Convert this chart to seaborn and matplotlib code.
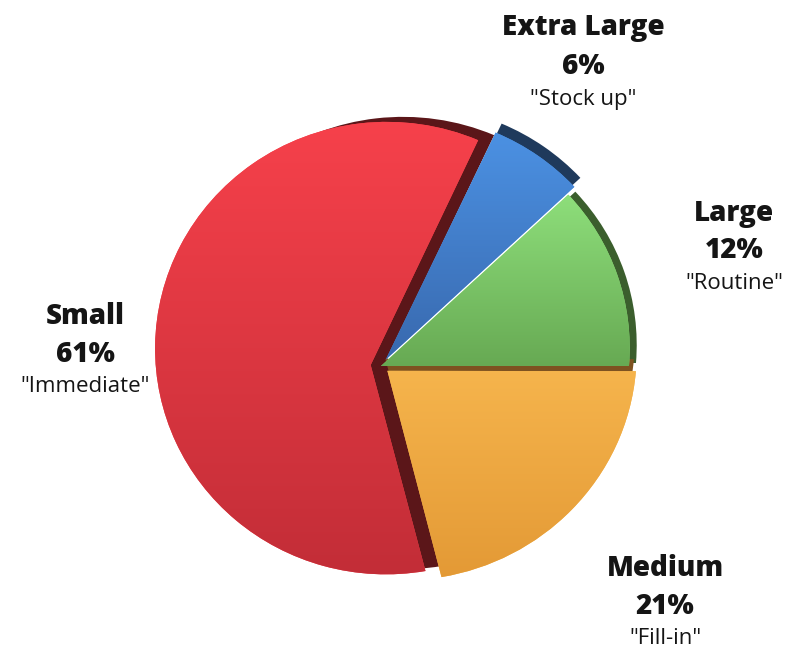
import numpy as np
import matplotlib
matplotlib.use("Agg")
import matplotlib.pyplot as plt
import matplotlib.transforms as mtransforms
import seaborn as sns
from matplotlib.colors import LinearSegmentedColormap

sns.set_theme(style="white")
plt.rcParams['font.family'] = ['Open Sans', 'DejaVu Sans']

# ---- data ----
categories = ["Large", "Extra Large", "Small", "Medium"]
shares = [12, 6, 61, 21]
subtitles = ['"Routine"', '"Stock up"', '"Immediate"', '"Fill-in"']
top_colors = ["#8fe07c", "#4c92e4", "#f7414b", "#f6b54d"]
bottom_colors = ["#66a852", "#3868ad", "#c22d37", "#e39935"]
side_colors = ["#3b5e2d", "#1f3a5c", "#5b1619", "#7e5220"]
explode = [0.0, 0.035, 0.045, 0.035]


class Perspective(mtransforms.Transform):
    """Tilted-disc view of a unit pie (mild projective mapping)."""
    input_dims = output_dims = 2
    is_separable = False
    has_inverse = False

    def __init__(self, cx, cy, a, e, g, h, dx=0.0, dy=0.0):
        super().__init__()
        self.p = (cx + dx, cy + dy, a, e, g, h)

    def transform_non_affine(self, xy):
        cx, cy, a, e, g, h = self.p
        xy = np.asarray(xy, dtype=float)
        u, v = xy[:, 0], xy[:, 1]
        d = 1.0 + g * u + h * v
        return np.column_stack([cx + a * u / d, cy + e * v / d])


W, H = 794, 652
fig = plt.figure(figsize=(W / 100, H / 100), dpi=100)
ax = fig.add_axes([0, 0, 1, 1])

CX, CY = 381, 652 - 366
PAR = dict(a=231, e=225, g=-0.0684, h=-0.0749)
side_shift = [(7, 3), (6, 9), (16, 5), (-2, 12)]

# 3D side (dark copy behind the faces)
side, _ = ax.pie(shares, colors=side_colors, startangle=0, counterclock=True,
                 explode=explode, radius=1, center=(0, 0),
                 wedgeprops=dict(linewidth=0), frame=True)
for w, (dx, dy) in zip(side, side_shift):
    w.set_transform(Perspective(CX, CY, dx=dx, dy=dy, **PAR) + ax.transData)

# faces
wedges, _ = ax.pie(shares, colors=top_colors, startangle=0, counterclock=True,
                   explode=explode, radius=1, center=(0, 0),
                   wedgeprops=dict(linewidth=0), frame=True)
face_tr = Perspective(CX, CY, **PAR)
for w in wedges:
    w.set_transform(face_tr + ax.transData)

ax.set_xlim(0, W)
ax.set_ylim(0, H)
ax.set_aspect("auto")
fig.canvas.draw()

grad = np.linspace(0, 1, 256).reshape(-1, 1)
inv = ax.transData.inverted()
for w, top, bot in zip(wedges, top_colors, bottom_colors):
    ext = w.get_transform().transform_path(w.get_path()).get_extents()
    (x0, y0), (x1, y1) = inv.transform([[ext.x0, ext.y0], [ext.x1, ext.y1]])
    cmap = LinearSegmentedColormap.from_list("g", [bot, top])
    im = ax.imshow(grad, extent=[x0 - 5, x1 + 5, y0 - 5, y1 + 5], origin="lower",
                   cmap=cmap, aspect="auto", zorder=w.get_zorder() + 0.1)
    im.set_clip_path(w)

ax.set_xlim(0, W)
ax.set_ylim(0, H)
ax.set_aspect("auto")
ax.axis("off")

label_pos = {"Extra Large": (583, 28), "Large": (734, 213),
             "Small": (85, 316), "Medium": (665, 568)}
for cat, pct, sub in zip(categories, shares, subtitles):
    x, y = label_pos[cat]
    fig.text(x / W, 1 - y / H, cat, ha="center", va="center", fontsize=20,
             fontweight=800, color="#151515", zorder=10)
    fig.text(x / W, 1 - (y + 38) / H, f"{pct}%", ha="center", va="center", fontsize=20,
             fontweight=800, color="#151515", zorder=10)
    fig.text(x / W, 1 - (y + 71) / H, sub, ha="center", va="center", fontsize=16,
             color="#151515", zorder=10)

fig.savefig("out.png", dpi=100, facecolor="white")
